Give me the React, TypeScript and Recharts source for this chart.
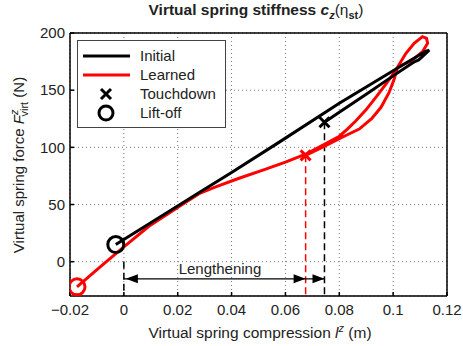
import {
  CartesianGrid,
  ComposedChart,
  Line,
  ReferenceDot,
  Scatter,
  XAxis,
  YAxis
} from 'recharts';

const xTicks = [-0.02, 0, 0.02, 0.04, 0.06, 0.08, 0.1, 0.12];
const yTicks = [0, 50, 100, 150, 200];

// black curve: touchdown -> max compression -> lift-off
const initialX = [0.0745, 0.08, 0.09, 0.1, 0.107, 0.1085, 0.1095, 0.1134, 0.112, 0.1, 0.08, 0.058, 0.04, 0.028, 0.01, -0.003];
const initialY = [122, 130.7, 146.5, 162.5, 173.5, 175.5, 176.5, 185, 184, 167, 138.5, 105, 78, 60.5, 34, 15];

// red curve: touchdown -> figure-eight loop -> lift-off
const learnedX = [0.0675, 0.0736, 0.08, 0.083, 0.0874, 0.092, 0.0955, 0.0985, 0.1003, 0.1016, 0.1047, 0.1078, 0.1109, 0.1124, 0.1128,
  0.1109, 0.1072, 0.1016, 0.1, 0.0975, 0.094, 0.09, 0.0861, 0.083, 0.0799, 0.0736, 0.0675, 0.06, 0.0527, 0.0428, 0.0341, 0.0279,
  0.0204, 0.0093, 0, -0.009, -0.0174];
const learnedY = [93, 100, 107.6, 111, 116, 125, 135, 148, 159, 170, 182, 191, 196.8, 195.4, 191,
  183.6, 176.3, 170, 164, 156, 145, 133, 123, 116, 109.5, 101.5, 94, 87, 81, 73, 65.5, 59.5,
  48, 31, 13, -5, -22];

const touchdownInitial = { x: 0.0745, y: 122 };
const touchdownLearned = { x: 0.0675, y: 93 };
const liftoffInitial = { x: -0.003, y: 15 };
const liftoffLearned = { x: -0.0174, y: -22 };

const arrowY = -15;
const lengtheningStart = 0;

const zip = (xs: number[], ys: number[]) => xs.map((x, i) => ({ x, y: ys[i] }));
const initialData = zip(initialX, initialY);
const learnedData = zip(learnedX, learnedY);

const yMin = -30;
const dropLine = (p: { x: number, y: number }) => [p, { x: p.x, y: yMin }];

const fmtX = (v: number) => (v < 0 ? '\u2212' + String(-v) : String(v));

const font = '"Liberation Sans", Arial, Helvetica, sans-serif';

const XMark = (props: any) => {
  const { cx, cy, fill } = props;
  const s = 5;
  return (
    <path
      d={`M${cx - s},${cy - s}L${cx + s},${cy + s}M${cx - s},${cy + s}L${cx + s},${cy - s}`}
      stroke={fill}
      strokeWidth={3}
      fill="none"
    />
  );
};

const OMark = (props: any) => {
  const { cx, cy, fill } = props;
  return <circle cx={cx} cy={cy} r={8} stroke={fill} strokeWidth={3} fill="none" />;
};

const ArrowRight = (props: any) => {
  const { cx, cy } = props;
  return <path d={`M${cx},${cy}L${cx - 12},${cy - 4.5}L${cx - 12},${cy + 4.5}Z`} fill="#000" />;
};

const ArrowLeft = (props: any) => {
  const { cx, cy } = props;
  return <path d={`M${cx + 2},${cy}L${cx + 14},${cy - 4.5}L${cx + 14},${cy + 4.5}Z`} fill="#000" />;
};

const LegendRow = ({ kind, color, label }: { kind: string, color: string, label: string }) => (
  <div style={{ display: 'flex', alignItems: 'center', height: 19 }}>
    <svg width={56} height={19}>
      {kind === 'line' && <line x1={5} x2={52} y1={10} y2={10} stroke={color} strokeWidth={3} />}
      {kind === 'x' && <XMark cx={28} cy={10} fill={color} />}
      {kind === 'o' && <circle cx={28} cy={10} r={7} stroke={color} strokeWidth={3} fill="none" />}
    </svg>
    <span style={{ marginLeft: 6 }}>{label}</span>
  </div>
);

const App = () => {
  return (
    <div style={{ position: 'absolute', left: 0, top: 0, width: 463, height: 346, background: '#fff', fontFamily: font }}>
      <ComposedChart width={463} height={346} margin={{ top: 32, right: 15, bottom: 49, left: 69 }}>
        <CartesianGrid stroke="#777" strokeDasharray="1 3" />
        <XAxis
          dataKey="x"
          type="number"
          domain={[-0.02, 0.12]}
          ticks={xTicks}
          tickFormatter={fmtX}
          height={1}
          tickSize={-4}
          tickMargin={12}
          stroke="#000"
          strokeWidth={1.5}
          tick={{ fill: '#222', fontSize: 15, fontFamily: font }}
          allowDataOverflow
        />
        <XAxis xAxisId="top" orientation="top" type="number" domain={[-0.02, 0.12]} ticks={xTicks} height={1} tickSize={-4} tick={false} stroke="#000" strokeWidth={1.5} />
        <YAxis
          dataKey="y"
          type="number"
          domain={[yMin, 200]}
          ticks={yTicks}
          width={1}
          tickSize={-4}
          tickMargin={9}
          stroke="#000"
          strokeWidth={1.5}
          tick={{ fill: '#222', fontSize: 15, fontFamily: font }}
          allowDataOverflow
        />
        <YAxis yAxisId="right" orientation="right" type="number" domain={[yMin, 200]} ticks={yTicks} width={1} tickSize={-4} tick={false} stroke="#000" strokeWidth={1.5} />

        <Line data={dropLine(touchdownInitial)} dataKey="y" stroke="#000" strokeWidth={1.5} strokeDasharray="7 4" dot={false} isAnimationActive={false} />
        <Line data={dropLine(touchdownLearned)} dataKey="y" stroke="#ff0000" strokeWidth={1.5} strokeDasharray="7 4" dot={false} isAnimationActive={false} />
        <Line data={dropLine({ x: lengtheningStart, y: 0 })} dataKey="y" stroke="#000" strokeWidth={1.5} strokeDasharray="7 4" dot={false} isAnimationActive={false} />
        <Line data={[{ x: lengtheningStart, y: arrowY }, { x: touchdownInitial.x, y: arrowY }]} dataKey="y" stroke="#000" strokeWidth={1.2} dot={false} isAnimationActive={false} />
        <Scatter data={[{ x: lengtheningStart, y: arrowY }]} dataKey="y" shape={ArrowLeft} isAnimationActive={false} />
        <Scatter data={[{ x: touchdownLearned.x, y: arrowY }, { x: touchdownInitial.x, y: arrowY }]} dataKey="y" shape={ArrowRight} isAnimationActive={false} />

        <Line data={learnedData} dataKey="y" stroke="#ff0000" strokeWidth={3} dot={false} type="linear" isAnimationActive={false} />
        <Line data={initialData} dataKey="y" stroke="#000" strokeWidth={3} dot={false} type="linear" isAnimationActive={false} />

        <Scatter data={[touchdownInitial]} dataKey="y" fill="#000" shape={XMark} isAnimationActive={false} />
        <Scatter data={[touchdownLearned]} dataKey="y" fill="#ff0000" shape={XMark} isAnimationActive={false} />
        <Scatter data={[liftoffInitial]} dataKey="y" fill="#000" shape={OMark} isAnimationActive={false} />
        <Scatter data={[liftoffLearned]} dataKey="y" fill="#ff0000" shape={OMark} isAnimationActive={false} />

        <ReferenceDot x={0.0357} y={-6} r={0} fill="none" stroke="none"
          label={{ value: 'Lengthening', position: 'center', fill: '#222', fontSize: 15, fontFamily: font }} />

        <text x={256} y={15} textAnchor="middle" fontSize={15.5} fontWeight="bold" fill="#222" fontFamily={font}>
          Virtual spring stiffness <tspan fontStyle="italic">c</tspan>
          <tspan dy={4} fontSize={11} fontStyle="italic">z</tspan>
          <tspan dy={-4} fontWeight="normal">(η</tspan>
          <tspan dy={4} fontSize={11}>st</tspan>
          <tspan dy={-4} fontWeight="normal">)</tspan>
        </text>
        <text x={260} y={338} textAnchor="middle" fontSize={15.5} fill="#222" fontFamily={font}>
          Virtual spring compression <tspan fontStyle="italic">l</tspan>
          <tspan dy={-6} fontSize={11} fontStyle="italic">z</tspan>
          <tspan dy={6}> (m)</tspan>
        </text>
        <text x={24} y={165} textAnchor="middle" fontSize={15} fill="#222" fontFamily={font} transform="rotate(-90, 24, 165)">
          Virtual spring force <tspan fontStyle="italic">F</tspan>
          <tspan dy={-6} fontSize={11} fontStyle="italic">z</tspan>
          <tspan dy={10} dx={-7} fontSize={11}>virt</tspan>
          <tspan dy={-4}> (N)</tspan>
        </text>
      </ComposedChart>
      <div style={{
        position: 'absolute', left: 77, top: 40, width: 149, height: 88, border: '1px solid #444',
        background: '#fff', fontSize: 15, color: '#222', paddingTop: 5, boxSizing: 'border-box'
      }}>
        <LegendRow kind="line" color="#000" label="Initial" />
        <LegendRow kind="line" color="#ff0000" label="Learned" />
        <LegendRow kind="x" color="#000" label="Touchdown" />
        <LegendRow kind="o" color="#000" label="Lift-off" />
      </div>
    </div>
  );
};

export default App;
